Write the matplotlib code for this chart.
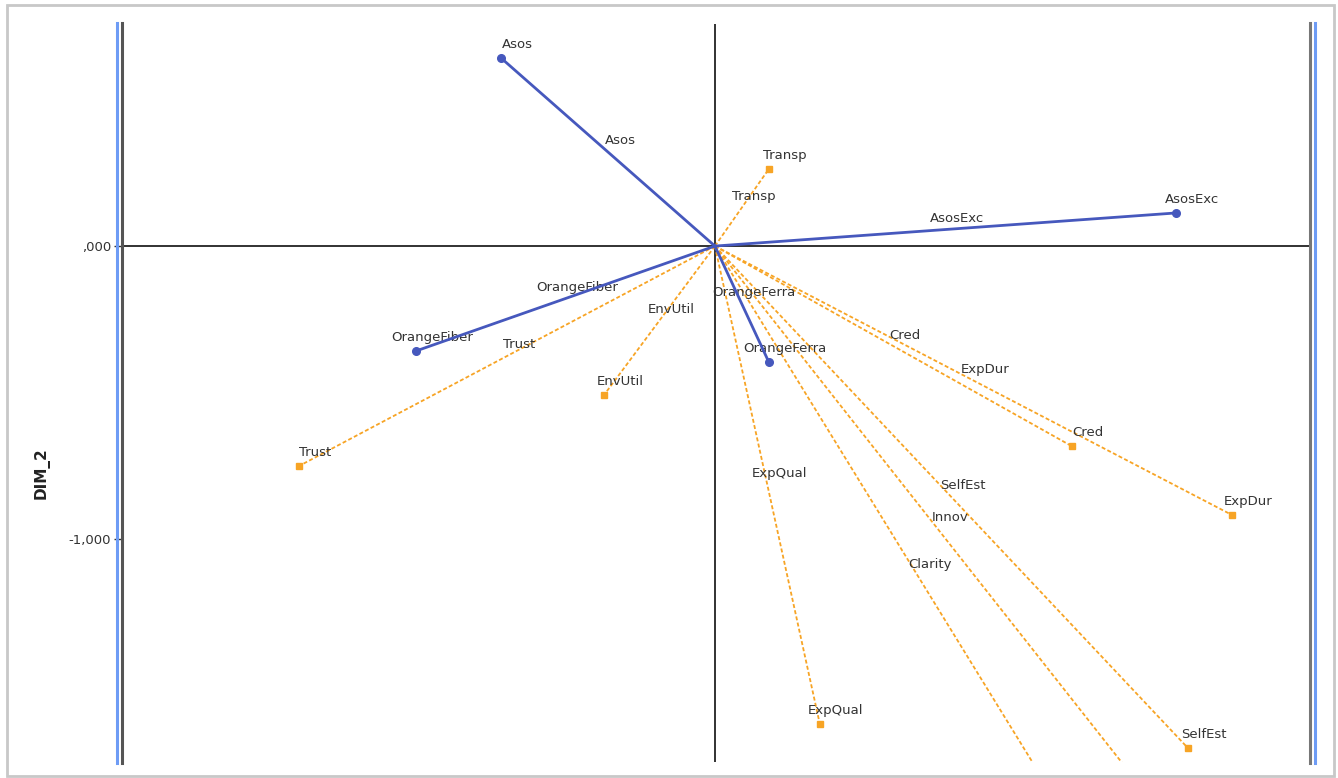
import matplotlib
matplotlib.use("Agg")
import matplotlib.pyplot as plt
from matplotlib.lines import Line2D
from matplotlib.patches import Rectangle

# object points (solid blue vectors)
obj_names = ["Asos", "AsosExc", "OrangeFiber", "OrangeFerra"]
obj_x = [-0.730, 1.573, -1.020, 0.184]
obj_y = [0.642, 0.113, -0.358, -0.396]

# variable vectors (dashed orange)
var_names = ["Transp", "Trust", "EnvUtil", "Cred", "ExpDur", "ExpQual", "SelfEst", "Innov", "Clarity"]
var_x = [0.184, -1.420, -0.379, 1.218, 1.765, 0.358, 1.614, 1.522, 1.386]
var_y = [0.263, -0.751, -0.509, -0.683, -0.918, -1.631, -1.713, -1.932, -2.253]

ytick_vals = [-1.0, 0.0]
ytick_labels = ["-1,000", ",000"]

blue = "#4658bd"
orange = "#f7a425"
txt = "#333333"
W, H = 1338, 778

fig = plt.figure(figsize=(W / 100, H / 100), dpi=100)
ax = fig.add_axes([121 / W, 1 - 762 / H, (1310 - 121) / W, (762 - 24) / H])

ax.axhline(0, color="#222222", lw=1.3, zorder=1)
ax.axvline(0, color="#222222", lw=1.3, zorder=1)

for name, x, y in zip(var_names, var_x, var_y):
    ax.plot([0, x], [0, y], color=orange, lw=1.3, ls=(0, (2.2, 1.3)), zorder=2)
    ax.plot(x, y, marker="s", ms=5, color=orange, zorder=3)
    ax.annotate(name, (x, y), xytext=(11.5, 10), textcoords="offset points",
                ha="center", va="center", fontsize=9.5, color=txt)
    ax.annotate(name, (x / 2, y / 2), xytext=(8.6, 8), textcoords="offset points",
                ha="center", va="center", fontsize=9.5, color=txt)

for name, x, y in zip(obj_names, obj_x, obj_y):
    ax.plot([0, x], [0, y], color=blue, lw=2, zorder=4)
    ax.plot(x, y, marker="o", ms=5.5, color=blue, zorder=5)
    ax.annotate(name, (x, y), xytext=(11.5, 10), textcoords="offset points",
                ha="center", va="center", fontsize=9.5, color=txt)
    ax.annotate(name, (x / 2, y / 2), xytext=(8.6, 8), textcoords="offset points",
                ha="center", va="center", fontsize=9.5, color=txt)

ax.set_xlim(-2.027, 2.031)
ax.set_ylim(-1.761, 0.758)
ax.set_xticks([])
ax.set_yticks(ytick_vals)
ax.set_yticklabels(ytick_labels)
ax.tick_params(axis="y", length=5, width=1, color="#333333", labelsize=9.5,
               labelcolor=txt, pad=2)
for s in ax.spines.values():
    s.set_visible(False)

# double borders left / right
y0, y1 = 1 - 763 / H, 1 - 23 / H
for px, c in [(117, "#6e9cf5"), (121.5, "#555555"), (1310, "#777777"), (1315, "#6e9cf5")]:
    fig.add_artist(Line2D([px / W, px / W], [y0, y1], color=c, lw=2.2,
                          transform=fig.transFigure))

fig.text(42 / W, 1 - 473 / H, "DIM_2", rotation=90, ha="center", va="center",
         fontsize=11, fontweight="bold", color="#222222")

# window frame
fig.add_artist(Rectangle((7 / W, 1 - 776 / H), (1334 - 7) / W, (776 - 5) / H,
                         transform=fig.transFigure, fill=False,
                         edgecolor="#c8c8c8", lw=2))

fig.savefig("out.png", dpi=100)
